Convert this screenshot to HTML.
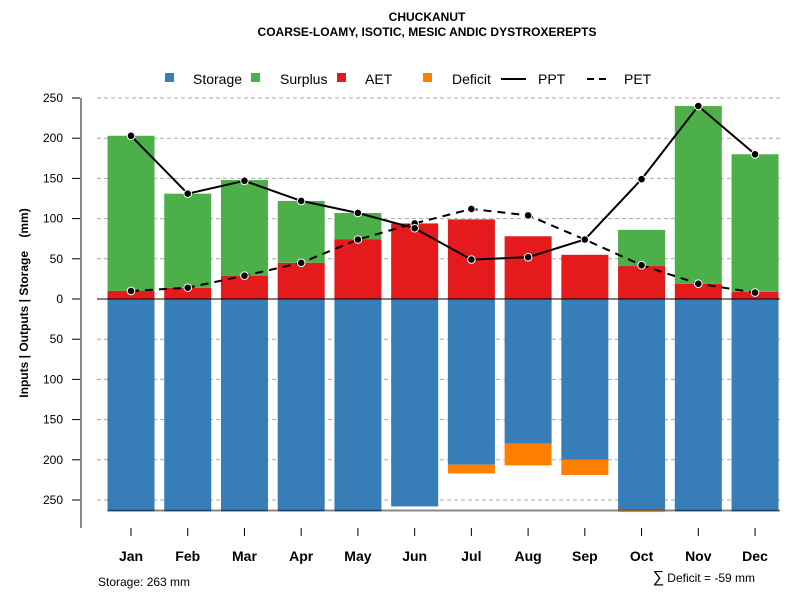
<!DOCTYPE html>
<html><head><meta charset="utf-8"><style>
body{margin:0;background:#fff;}
svg{font-family:"Liberation Sans",Arial,sans-serif;display:block}
</style></head><body>
<svg id="chart" width="800" height="600" viewBox="0 0 800 600">
<text x="427" y="21" text-anchor="middle" font-size="12" font-weight="bold">CHUCKANUT</text>
<text x="427" y="36" text-anchor="middle" font-size="12" font-weight="bold">COARSE-LOAMY, ISOTIC, MESIC ANDIC DYSTROXEREPTS</text>
<g font-size="14">
 <g><rect x="165" y="73" width="9" height="9" fill="#377eb8"/><text x="193" y="84">Storage</text></g>
 <g><rect x="251" y="73" width="9" height="9" fill="#4daf4a"/><text x="280" y="84">Surplus</text></g>
 <g><rect x="337" y="73" width="9" height="9" fill="#e41a1c"/><text x="365" y="84">AET</text></g>
 <g><rect x="423" y="73" width="9" height="9" fill="#ff7f00"/><text x="452" y="84">Deficit</text></g>
 <g><line x1="501" y1="79" x2="526" y2="79" stroke="#000" stroke-width="2"/><text x="538" y="84">PPT</text></g>
 <g><line x1="587" y1="79" x2="608" y2="79" stroke="#000" stroke-width="2" stroke-dasharray="7,5"/><text x="624" y="84">PET</text></g>
</g>
<g id="grid"></g><g id="bars"></g><g id="lines"></g><g id="axes"></g>
<text transform="translate(28,303) rotate(-90)" text-anchor="middle" font-size="12" font-weight="bold" xml:space="preserve" style="white-space:pre">Inputs | Outputs | Storage    (mm)</text>
<text x="98" y="586" font-size="12">Storage: 263 mm</text>
<text x="755" y="582" text-anchor="end" font-size="12"><tspan font-size="16">∑</tspan> Deficit = -59 mm</text>
</svg>
<script>
const months=["Jan","Feb","Mar","Apr","May","Jun","Jul","Aug","Sep","Oct","Nov","Dec"];
const aet=[10,14,29,45,74,94,99,78,55,41,19,9];
const surplus=[193,117,119,77,33,0,0,0,0,45,221,171];
const storage=[263,263,263,263,263,258,206,180,200,263,263,263];
const deficit=[0,0,0,0,0,0,11,27,19,2,0,0];
const ppt=[203,131,147,122,107,88,49,52,74,149,240,180];
const pet=[10,14,29,45,74,94,112,104,74,42,19,8];
const yTicks=[250,200,150,100,50,0,-50,-100,-150,-200,-250];
const capacity=263;
const NS="http://www.w3.org/2000/svg";
const y=v=>299-v*0.804;
const x=i=>131+i*56.73;
const bw=47;
function mk(t,a,p){const e=document.createElementNS(NS,t);for(const k in a)e.setAttribute(k,a[k]);p.appendChild(e);return e;}
const grid=document.getElementById('grid'),bars=document.getElementById('bars'),lines=document.getElementById('lines'),axes=document.getElementById('axes');
yTicks.forEach(v=>{
 if(v!==0){const g=mk('line',{x1:97,x2:780,y1:y(v),y2:y(v),stroke:'#aaa','stroke-dasharray':'4,3'},grid);
 
 }
 const t=mk('line',{x1:72,x2:80,y1:y(v),y2:y(v),stroke:'#000'},axes);
 
 
 const l=mk('text',{x:63,y:y(v)+4,'text-anchor':'end','font-size':12},axes);l.textContent=Math.abs(v);
 
 
});
const cap=mk('line',{x1:108,x2:780,y1:y(-capacity),y2:y(-capacity),stroke:'#888','stroke-width':2},grid);


months.forEach((m,i)=>{
 const cx=x(i)-bw/2;
 const s=mk('rect',{x:cx,y:y(0),width:bw,height:y(-storage[i])-y(0),fill:'#377eb8'},bars);
 
 
 if(storage[i]>=capacity){mk('line',{x1:cx,x2:cx+bw,y1:y(-storage[i]),y2:y(-storage[i]),stroke:'#1e3f5e','stroke-width':1.5},bars);}
 if(deficit[i]>0){const d=mk('rect',{x:cx,y:y(-storage[i]),width:bw,height:y(-storage[i]-deficit[i])-y(-storage[i]),fill:'#ff7f00'},bars);
 
 }
 const a=mk('rect',{x:cx,y:y(aet[i]),width:bw,height:y(0)-y(aet[i]),fill:'#e41a1c'},bars);
 
 
 if(surplus[i]>0){const p=mk('rect',{x:cx,y:y(aet[i]+surplus[i]),width:bw,height:y(aet[i])-y(aet[i]+surplus[i]),fill:'#4daf4a'},bars);
 
 }
 const t=mk('line',{x1:x(i),x2:x(i),y1:528,y2:536,stroke:'#000'},axes);
 
 
 const l=mk('text',{x:x(i),y:561,'text-anchor':'middle','font-size':14,'font-weight':'bold'},axes);l.textContent=m;
 
 
});
const z=mk('line',{x1:97,x2:780,y1:y(0),y2:y(0),stroke:'#000','stroke-width':1},bars);


const ya=mk('line',{x1:81,x2:81,y1:98,y2:528,stroke:'#888','stroke-width':2},axes);


function series(vals,name,dash){
 const pl=mk('polyline',{points:vals.map((v,i)=>x(i)+','+y(v)).join(' '),fill:'none',stroke:'#000','stroke-width':2,'stroke-dasharray':dash||'none'},lines);
 
 
 vals.forEach((v,i)=>{const c=mk('circle',{cx:x(i),cy:y(v),r:3.8,fill:'#000',stroke:'#fff','stroke-width':1},lines);
 
 });
}
series(pet,'pet','8,6');
series(ppt,'ppt');
</script>
</body></html>
